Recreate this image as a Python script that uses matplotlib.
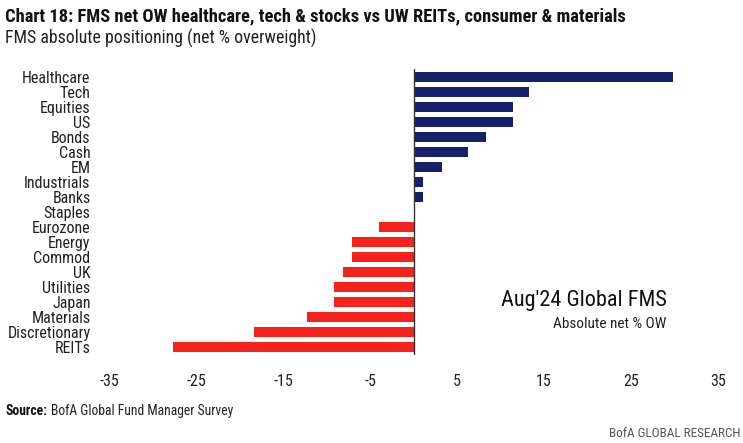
import numpy as np
import matplotlib
matplotlib.use('Agg')
import matplotlib.pyplot as plt

plt.rcParams['font.family'] = ['Roboto Condensed', 'DejaVu Sans']

# FMS absolute positioning, net % overweight (Aug'24)
categories = ['Healthcare', 'Tech', 'Equities', 'US', 'Bonds', 'Cash', 'EM',
              'Industrials', 'Banks', 'Staples', 'Eurozone', 'Energy', 'Commod',
              'UK', 'Utilities', 'Japan', 'Materials', 'Discretionary', 'REITs']
values = [29.8, 13.3, 11.4, 11.4, 8.3, 6.2, 3.2, 1.1, 1.1, 0.0, -4.0, -7.1,
          -7.1, -8.2, -9.2, -9.2, -12.3, -18.4, -27.7]
xticks = [-35, -25, -15, -5, 5, 15, 25, 35]

navy = '#17206a'
red = '#f5231b'

fig = plt.figure(figsize=(7.43, 4.43), dpi=100)
ax = fig.add_axes([0.148, 0.199, 0.818, 0.645])

pos = np.arange(len(categories))
colors = [navy if v >= 0 else red for v in values]
ax.barh(pos, values, height=0.66, color=colors)
ax.axvline(0, color='#333333', lw=1)

ax.set_xlim(-35, 35)
ax.set_ylim(len(categories) - 0.5, -0.5)
ax.set_yticks(pos)
ax.set_yticklabels(categories, fontsize=11.5, color='#222222')
ax.set_xticks(xticks)
ax.set_xticklabels([str(t) for t in xticks], fontsize=11.5, color='#222222')
ax.tick_params(axis='both', length=0)
ax.tick_params(axis='y', pad=14)
ax.tick_params(axis='x', pad=14)
for s in ax.spines.values():
    s.set_visible(False)

# chart notes
fig.text(0.007, 0.963, 'Chart 18: FMS net OW healthcare, tech & stocks vs UW REITs, consumer & materials',
         fontsize=13.3, fontweight='bold', color='#111111', va='center')
fig.text(0.007, 0.913, 'FMS absolute positioning (net % overweight)',
         fontsize=12.8, color='#222222', va='center')
fig.text(0.897, 0.322, "Aug'24 Global FMS", fontsize=16, color='#111111', ha='right', va='center')
fig.text(0.897, 0.268, 'Absolute net % OW', fontsize=11, color='#222222', ha='right', va='center')

# source line: bold label followed by plain text
src = fig.text(0.007, 0.073, 'Source:', fontsize=9.8, fontweight='bold', color='#111111', va='center')
fig.add_artist(plt.Annotation('BofA Global Fund Manager Survey', xy=(1, 0.5), xycoords=src,
                              xytext=(3, 0), textcoords='offset points',
                              fontsize=9.8, color='#222222', va='center'))
fig.text(0.997, 0.022, 'BofA GLOBAL RESEARCH', fontsize=9.5, color='#555555',
         ha='right', va='center')

fig.savefig('out.png', dpi=100)
